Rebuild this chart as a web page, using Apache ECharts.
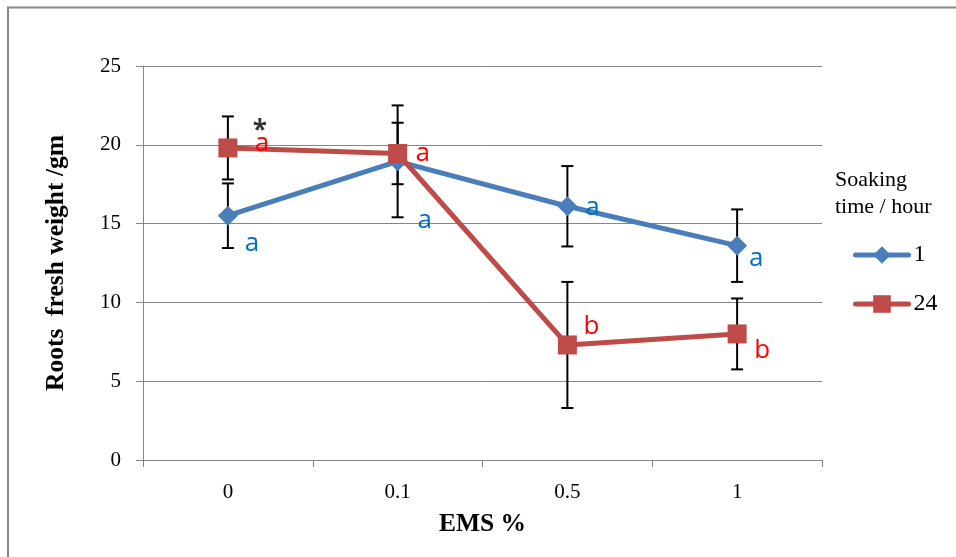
<!DOCTYPE html>
<html>
<head>
<meta charset="utf-8">
<script src="https://cdn.jsdelivr.net/npm/echarts@6/dist/echarts.min.js"></script>
<style>
  html, body { margin: 0; padding: 0; background: #fff; }
  #chart { width: 956px; height: 557px; }
</style>
</head>
<body>
<div id="chart"></div>
<script>
// data
const categories = ['0', '0.1', '0.5', '1'];
const hour1  = [15.5, 18.95, 16.1, 13.6];
const err1   = [2.05, 3.55, 2.55, 2.3];
const hour24 = [19.8, 19.45, 7.3, 8.0];
const err24  = [2.0, 1.95, 4.0, 2.25];
const letters1  = ['a', 'a', 'a', 'a'];
const letters24 = ['a', 'a', 'b', 'b'];
const yTicks = [0, 5, 10, 15, 20, 25];

// label placement (px offsets from the point)
const offs1  = [[24, 28], [27, 59], [25, 1], [19, 13]];
const offs24 = [[34, -4], [25, 0], [24, -18], [25, 17]];

const serif = 'Liberation Serif';
const sans = 'Open Sans';

function withLetters(values, letters, offs, color) {
    return values.map(function (v, i) {
        return {
            value: v,
            label: {
                show: true, formatter: letters[i], position: 'inside',
                offset: offs[i], color: color, fontSize: 26, fontFamily: sans
            }
        };
    });
}

function errorData(values, errs) {
    return values.map(function (v, i) { return [i, v - errs[i], v + errs[i]]; });
}

function renderError(params, api) {
    const lo = api.coord([api.value(0), api.value(1)]);
    const hi = api.coord([api.value(0), api.value(2)]);
    const w = 6;
    const style = { stroke: '#000', lineWidth: 2 };
    return {
        type: 'group',
        children: [
            { type: 'line', shape: { x1: lo[0], y1: lo[1], x2: hi[0], y2: hi[1] }, style: style },
            { type: 'line', shape: { x1: lo[0] - w, y1: lo[1], x2: lo[0] + w, y2: lo[1] }, style: style },
            { type: 'line', shape: { x1: hi[0] - w, y1: hi[1], x2: hi[0] + w, y2: hi[1] }, style: style }
        ]
    };
}

const chart = echarts.init(document.getElementById('chart'));

const option = {
    animation: false,
    grid: { left: 143, right: 134, top: 66, bottom: 97 },
    graphic: [
        { type: 'rect', left: 5.5, top: 5, shape: { width: 1000, height: 1000 },
          style: { fill: 'none', stroke: '#888', lineWidth: 2 }, z: 0 },
        { type: 'text', left: 835, top: 167,
          style: { text: 'Soaking\ntime / hour', fontFamily: serif, fontSize: 22,
                   lineHeight: 27, fill: '#000' } }
    ],
    legend: {
        data: ['1', '24'],
        orient: 'vertical',
        left: 848, top: 238,
        itemWidth: 53, itemHeight: 22, itemGap: 25,
        lineStyle: { width: 5, cap: 'round' },
        textStyle: { fontFamily: serif, fontSize: 24, color: '#000' }
    },
    xAxis: {
        type: 'category',
        data: categories,
        boundaryGap: true,
        name: 'EMS %',
        nameLocation: 'middle',
        nameGap: 51,
        nameTextStyle: { fontFamily: serif, fontSize: 25.5, fontWeight: 'bold', color: '#000' },
        axisLine: { lineStyle: { color: '#868686', width: 1 } },
        axisTick: { show: true, length: 7, lineStyle: { color: '#868686' } },
        axisLabel: { fontFamily: serif, fontSize: 21, color: '#000', margin: 22 }
    },
    yAxis: {
        type: 'value',
        min: yTicks[0], max: yTicks[yTicks.length - 1], interval: 5,
        name: 'Roots  fresh weight /gm',
        nameLocation: 'middle',
        nameGap: 74,
        nameTextStyle: { fontFamily: serif, fontSize: 25.5, fontWeight: 'bold', color: '#000' },
        axisLine: { show: true, lineStyle: { color: '#868686', width: 1 } },
        axisTick: { show: true, length: 7, lineStyle: { color: '#868686' } },
        axisLabel: { fontFamily: serif, fontSize: 21, color: '#000', margin: 22 },
        splitLine: { lineStyle: { color: '#868686', width: 1 } }
    },
    series: [
        {
            name: 'err1', type: 'custom', renderItem: renderError,
            data: errorData(hour1, err1), z: 1, silent: true
        },
        {
            name: 'err24', type: 'custom', renderItem: renderError,
            data: errorData(hour24, err24), z: 1, silent: true
        },
        {
            name: '1', type: 'line', z: 3,
            data: withLetters(hour1, letters1, offs1, '#0070C0'),
            symbol: 'diamond', symbolSize: 20,
            lineStyle: { color: '#4A7EBB', width: 5 },
            itemStyle: { color: '#4A7EBB' }
        },
        {
            name: '24', type: 'line', z: 4,
            data: withLetters(hour24, letters24, offs24, '#FF0000'),
            symbol: 'rect', symbolSize: 19,
            lineStyle: { color: '#BE4B48', width: 5 },
            itemStyle: { color: '#BE4B48' }
        },
        {
            name: 'note', type: 'scatter', z: 5, symbolSize: 0,
            data: [[0, hour24[0]]],
            label: {
                show: true, formatter: '*', position: 'inside', offset: [32, -16],
                color: '#000', fontSize: 26, fontWeight: 'bold', fontFamily: sans
            }
        }
    ]
};

chart.setOption(option);
</script>
</body>
</html>
